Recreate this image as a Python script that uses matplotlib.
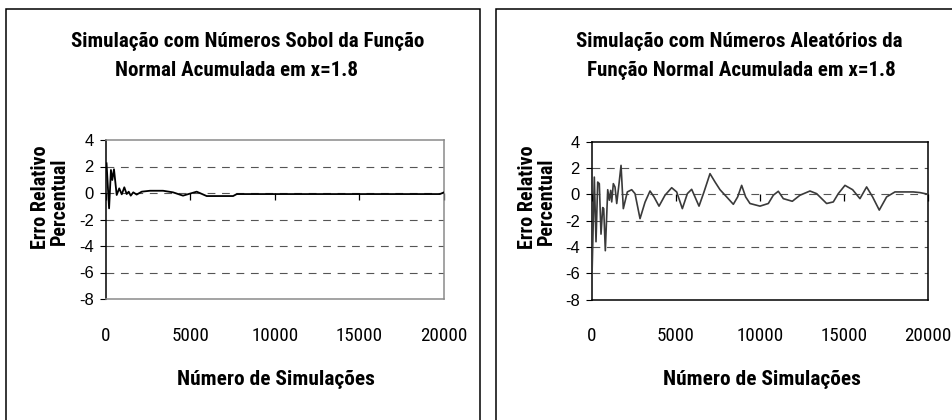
import matplotlib
matplotlib.use("Agg")
import matplotlib.pyplot as plt
from matplotlib import font_manager
from matplotlib.patches import Rectangle

# Sobol run: percent relative error vs number of simulations
sobol_n = [50, 200, 310, 390, 490, 650, 800, 950, 1100, 1240, 1360, 1480, 1630,
           1830, 2130, 2620, 3390, 3980, 4570, 5380, 5970, 7530, 7750, 19760, 20000]
sobol_err = [2.24, -1.16, 1.74, 0.98, 1.79, -0.15, 0.35, -0.1, 0.43, -0.08, 0.1, -0.2, 0.05,
             -0.12, 0.1, 0.17, 0.17, 0.05, -0.2, 0.1, -0.23, -0.23, -0.08, -0.08, 0.05]

# pseudo-random run
rand_n = [0, 155, 256, 357, 452, 553, 654, 714, 809, 952,
          1047, 1130, 1189, 1285, 1386, 1487, 1624, 1743, 1879, 2117,
          2376, 2574, 2871, 3168, 3465, 3703, 4000, 4356, 4752, 5049,
          5386, 5683, 5940, 6376, 6673, 7029, 7326, 7623, 8019, 8415,
          8672, 8910, 9148, 9405, 9999, 10494, 10791, 11088, 11385, 11920,
          12375, 12969, 13365, 13959, 14355, 14652, 15048, 15503, 15939, 16335,
          16691, 17087, 17523, 18018, 19107, 19503, 20000]
rand_err = [-7.22, 1.31, -3.61, 0.93, 0.81, -3.03, -1.01, -1.09, -4.29, 0.35,
            -0.45, 0.30, -0.58, 0.81, 0.55, -0.70, 0.81, 2.2, -1.09, 0.18,
            0.35, 0.05, -1.85, -0.6, 0.25, -0.2, -0.9, -0.07, 0.5, 0.18,
            -1.09, 0.05, 0.38, -0.9, 0.18, 1.57, 0.94, 0.35, -0.2, -0.76,
            -0.2, 0.68, -0.2, -0.7, -0.9, -0.7, -0.07, 0.23, -0.33, -0.53,
            -0.07, 0.25, 0.05, -0.7, -0.58, 0.05, 0.68, 0.35, -0.33, 0.56,
            -0.2, -1.2, -0.2, 0.18, 0.18, 0.13, 0.0]

y_ticks = [-8, -6, -4, -2, 0, 2, 4]
x_ticks = [0, 5000, 10000, 15000, 20000]

titles = [("Simulação com Números Sobol da Função", "Normal Acumulada em x=1.8"),
          ("Simulação com Números Aleatórios da", "Função Normal Acumulada em x=1.8")]
x_label = "Número de Simulações"
y_label = ("Erro Relativo", "Percentual")

plt.rcParams["font.family"] = "Liberation Sans"
plt.rcParams["axes.unicode_minus"] = False

W, H = 953, 420
fig = plt.figure(figsize=(W / 100, H / 100), dpi=100)
renderer = fig.canvas.get_renderer()


def pick_narrow():
    bold = {f.name for f in font_manager.fontManager.ttflist
            if str(f.weight) in ("700", "bold") and f.style == "normal"}
    for fam in ["Arial Narrow", "Liberation Sans Narrow", "Roboto Condensed",
                "PT Sans Narrow", "Fira Sans Condensed", "IBM Plex Sans Condensed",
                "Asap Condensed", "Barlow Semi Condensed", "Barlow Condensed"]:
        if fam in bold:
            return fam
    return "Liberation Sans"


NARROW = pick_narrow()


def fit_size(strings, target_px, weight="bold", base=12.0):
    # font size that gives the strings the wanted total width in pixels
    total = 0.0
    for s in strings:
        t = fig.text(0, 0, s, fontsize=base, fontfamily=NARROW, fontweight=weight)
        total += t.get_window_extent(renderer).width
        t.remove()
    return base * target_px / total


S_TITLE = fit_size([*titles[0], *titles[1]], 364 + 253 + 320 + 296)
S_XLAB = fit_size([x_label], 198)
S_YLAB = min(fit_size(list(y_label), 109 + 97), 14.5)
S_XTICK = fit_size(["5000", "10000", "15000", "20000"], 176, weight="normal")


def fx(px):
    return px / W


def fy(py):
    return 1 - py / H


def draw_panel(box, ax_box, n, err, line_color, frame_color, lw,
               title, title_x, xlab_x, ylab_x):
    # outer chart border
    x0, x1 = box
    fig.patches.append(Rectangle((fx(x0), fy(440)), fx(x1 - x0), (440 - 9) / H,
                                 transform=fig.transFigure, fill=False,
                                 lw=1.1, ec="black"))

    l, r, t, b = ax_box
    ax = fig.add_axes([fx(l), fy(b), fx(r - l), (b - t) / H])
    for y in y_ticks[1:-1]:
        ax.axhline(y, color="#555555", lw=0.8, dashes=(7, 6), zorder=1)
    ax.plot(n, err, color=line_color, lw=lw, zorder=3)

    ax.set_xlim(0, 20000)
    ax.set_ylim(-8, 4)
    ax.set_yticks(y_ticks)
    ax.set_yticklabels([str(v) for v in y_ticks])
    ax.set_xticks(x_ticks)
    ax.set_xticklabels([str(v) for v in x_ticks], fontfamily=NARROW, fontsize=S_XTICK)
    ax.tick_params(axis="y", direction="out", length=4.5, width=0.8, pad=4, labelsize=12)
    ax.tick_params(axis="x", length=0, pad=20)

    for side in ("top", "right", "bottom"):
        ax.spines[side].set_color(frame_color)
        ax.spines[side].set_linewidth(1.1)
    ax.spines["left"].set_color("black")
    ax.spines["left"].set_linewidth(1.1)

    # category axis crossing at zero, tick marks only
    sec = ax.secondary_xaxis(8 / 12)
    sec.set_alignment("bottom")
    sec.set_xticks(x_ticks)
    sec.tick_params(axis="x", direction="out", length=5, width=0.9, labelbottom=False)
    sec.spines["bottom"].set_visible(False)

    for (cx, base), s in zip(zip(title_x, (47, 76)), title):
        fig.text(fx(cx), fy(base), s, ha="center", va="baseline",
                 fontfamily=NARROW, fontweight="bold", fontsize=S_TITLE)
    fig.text(fx(xlab_x), fy(385), x_label, ha="center", va="baseline",
             fontfamily=NARROW, fontweight="bold", fontsize=S_XLAB)
    for (bx, cy), s in zip(((ylab_x, 197.5), (ylab_x + 19, 201.5)), y_label):
        fig.text(fx(bx), fy(cy), s, ha="center", va="baseline", rotation=90,
                 rotation_mode="anchor", fontfamily=NARROW, fontweight="bold",
                 fontsize=S_YLAB)
    return ax


draw_panel((6, 480), (105.7, 444, 140, 299), sobol_n, sobol_err,
           "black", "#8a8a8a", 1.3, titles[0], (248, 237), 276, 45.5)
draw_panel((496, 975), (591.7, 928.3, 141.7, 299.5), rand_n, rand_err,
           "#3a3a3a", "black", 1.2, titles[1], (739, 741), 761.5, 533)

fig.savefig("out.png", dpi=100)
